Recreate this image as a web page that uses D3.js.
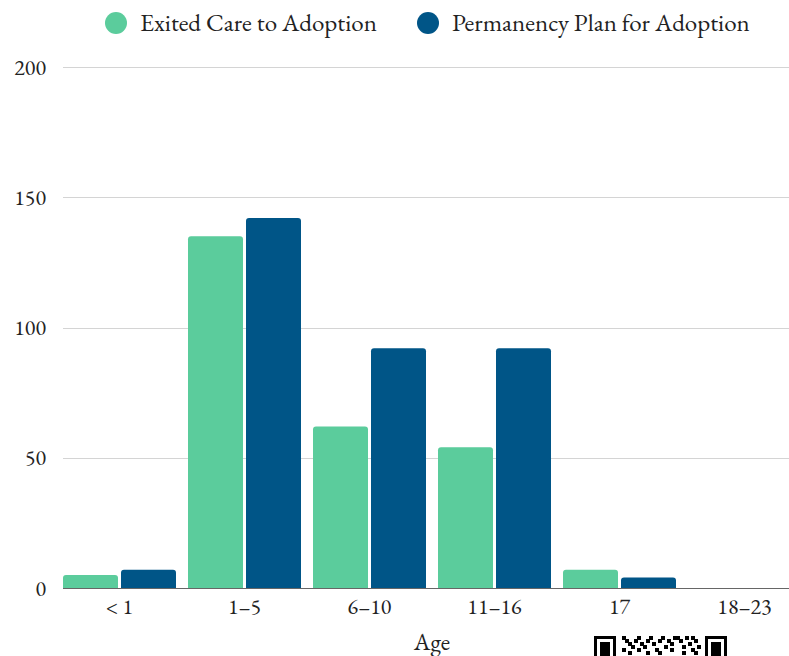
<!DOCTYPE html>
<html>
<head>
<meta charset="utf-8">
<script src="https://cdn.jsdelivr.net/npm/d3@7"></script>
<style>
  html, body { margin: 0; padding: 0; background: #fff; }
  svg { display: block; }
  text { font-family: "EB Garamond", Garamond, "Liberation Serif", "DejaVu Serif", serif; fill: #222; }
</style>
</head>
<body>
<svg id="chart" width="789" height="656"></svg>
<script>
const categories = ["< 1", "1–5", "6–10", "11–16", "17", "18–23"];
const seriesNames = ["Exited Care to Adoption", "Permanency Plan for Adoption"];
const exitedCare = [5, 135, 62, 54, 7, 0];
const permanencyPlan = [7, 142, 92, 92, 4, 0];
const yTicks = [0, 50, 100, 150, 200];
const seriesColors = ["#5bcc9c", "#005587"];
const xTitle = "Age";

(function () {
const svg = d3.select("#chart");
const W = 789;
const mLeft = 63, mTop = 67, mBottom = 588;

const data = categories.map((c, i) => ({ cat: c, values: [exitedCare[i], permanencyPlan[i]] }));

const x = d3.scaleBand().domain(categories).range([mLeft, mLeft + 6 * 125 - 12]).paddingInner(12 / 125).paddingOuter(0);
const xs = d3.scaleBand().domain([0, 1]).range([0, x.bandwidth()]).paddingInner(2 - x.bandwidth() / 58).paddingOuter(0);
const y = d3.scaleLinear().domain([0, 200]).range([mBottom, mTop]);

// gridlines
svg.append("g").selectAll("line").data(yTicks.filter(d => d > 0)).join("line")
  .attr("x1", mLeft).attr("x2", W)
  .attr("y1", d => Math.round(y(d)) + 0.5).attr("y2", d => Math.round(y(d)) + 0.5)
  .attr("stroke", "#d4d4d4").attr("stroke-width", 1);

// y tick labels
svg.append("g").selectAll("text").data(yTicks).join("text")
  .attr("x", 46).attr("y", d => y(d)).attr("dy", "0.35em")
  .attr("text-anchor", "end").attr("font-size", 22)
  .text(d => d);

function topRounded(x0, y0, w, h, r) {
  if (h <= 0) return "";
  r = Math.min(r, h, w / 2);
  return `M${x0},${y0 + h}V${y0 + r}Q${x0},${y0} ${x0 + r},${y0}H${x0 + w - r}Q${x0 + w},${y0} ${x0 + w},${y0 + r}V${y0 + h}Z`;
}

const groups = svg.append("g").selectAll("g").data(data).join("g")
  .attr("transform", d => `translate(${x(d.cat)},0)`);
groups.selectAll("path").data(d => d.values.map((v, k) => ({ v, k }))).join("path")
  .attr("fill", d => seriesColors[d.k])
  .attr("d", d => topRounded(xs(d.k), y(d.v), xs.bandwidth(), y(0) - y(d.v), 3));

// x axis line
svg.append("line").attr("x1", mLeft).attr("x2", W).attr("y1", mBottom + 0.5).attr("y2", mBottom + 0.5)
  .attr("stroke", "#666").attr("stroke-width", 1);

// x labels
svg.append("g").selectAll("text").data(categories).join("text")
  .attr("x", d => x(d) + x.bandwidth() / 2).attr("y", 614)
  .attr("text-anchor", "middle").attr("font-size", 22)
  .text(d => d);

svg.append("text").attr("x", 432).attr("y", 650).attr("text-anchor", "middle")
  .attr("font-size", 24).text(xTitle);

// legend
const legendX = [116, 428];
const lg = svg.append("g").selectAll("g").data(seriesNames).join("g")
  .attr("transform", (d, i) => `translate(${legendX[i]},23)`);
lg.append("circle").attr("r", 11).attr("fill", (d, i) => seriesColors[i]);
lg.append("text").attr("x", 24).attr("dy", "0.33em").attr("font-size", 25).text(d => d);

// decorative QR-like mark at bottom right
const qr = svg.append("g").attr("transform", "translate(594,636)");
function finder(x0) {
  qr.append("rect").attr("x", x0).attr("y", 0).attr("width", 22).attr("height", 22).attr("fill", "#000");
  qr.append("rect").attr("x", x0 + 3).attr("y", 3).attr("width", 16).attr("height", 17).attr("fill", "#fff");
  qr.append("rect").attr("x", x0 + 6).attr("y", 6).attr("width", 10).attr("height", 14).attr("fill", "#000");
}
finder(0); finder(111);
const mods = [[28,0],[31,3],[34,6],[37,9],[40,3],[43,0],[46,6],[49,9],[52,3],[55,0],[58,6],[61,12],[64,3],[67,0],[70,9],[73,3],[76,6],[79,0],[82,0],[85,3],[88,9],[91,0],[94,6],[97,0],[100,3],[103,9],[28,12],[34,15],[43,12],[52,15],[64,15],[76,12],[88,15],[97,12],[100,15]];
qr.selectAll("rect.m").data(mods).join("rect").attr("class", "m")
  .attr("x", d => d[0]).attr("y", d => d[1]).attr("width", 4).attr("height", 4).attr("fill", "#000");
})();
</script>
</body>
</html>
